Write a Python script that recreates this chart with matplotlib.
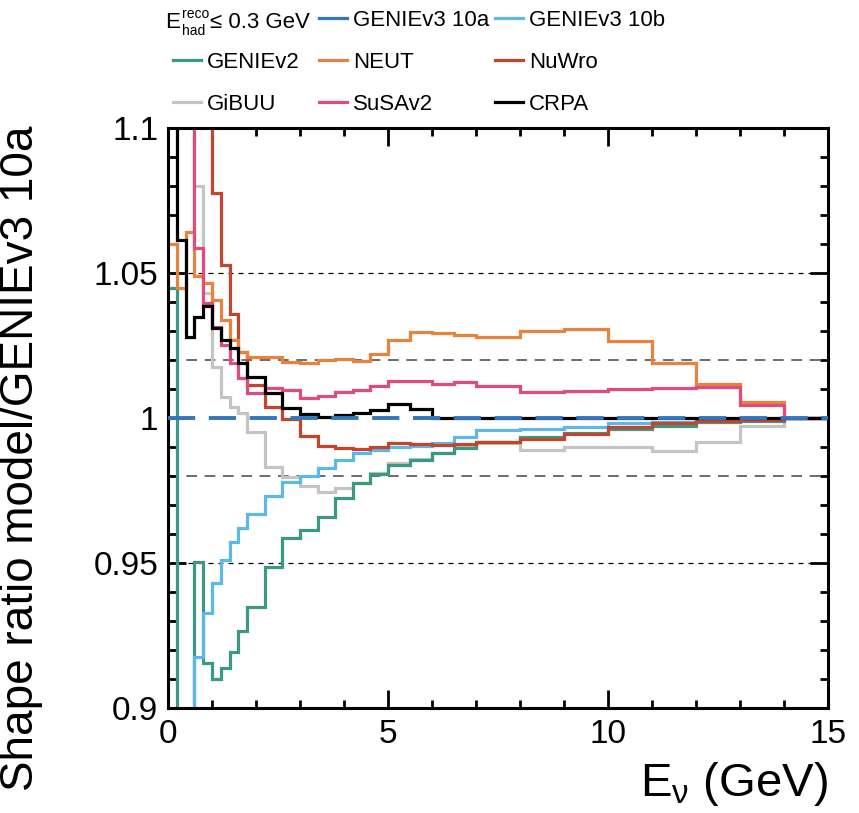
import numpy as np
import matplotlib
matplotlib.use('Agg')
import matplotlib.pyplot as plt
from matplotlib.lines import Line2D
from matplotlib.ticker import MultipleLocator, FormatStrFormatter

plt.rcParams['font.family'] = ['Liberation Sans', 'DejaVu Sans']
plt.rcParams['mathtext.fontset'] = 'custom'
plt.rcParams['mathtext.rm'] = 'Liberation Sans'
plt.rcParams['mathtext.it'] = 'Liberation Sans'

# bin edges in E_nu (GeV)
edges = [0, 0.2, 0.4, 0.6, 0.8, 1.0, 1.2, 1.4, 1.6, 1.8, 2.2, 2.6, 3.0, 3.4, 3.8,
         4.2, 4.6, 5.0, 5.5, 6.0, 6.5, 7, 8, 9, 10, 11, 12, 13, 14, 15]

# shape ratio model / GENIEv3 10a per bin (values > 1.1 or < 0.9 are off scale)
genie10a = [1.0, 1.0, 1.0, 1.0, 1.0, 1.0, 1.0, 1.0, 1.0, 1.0, 1.0, 1.0, 1.0, 1.0, 1.0,
            1.0, 1.0, 1.0, 1.0, 1.0, 1.0, 1.0, 1.0, 1.0, 1.0, 1.0, 1.0, 1.0, 1.0]
genie10b = [0.85, 0.85, 0.85, 0.9177, 0.9327, 0.943, 0.951, 0.9573, 0.962, 0.967,
            0.973, 0.978, 0.980, 0.9826, 0.9855, 0.988, 0.989, 0.990, 0.9905, 0.9913,
            0.9933, 0.9959, 0.9962, 0.997, 0.9982, 0.9987, 0.999, 0.9993, 1.0]
geniev2 = [1.045, 0.85, 0.85, 0.9504, 0.9154, 0.910, 0.9137, 0.9194, 0.9265, 0.9349,
           0.9485, 0.9585, 0.9614, 0.966, 0.9723, 0.9775, 0.9806, 0.9838, 0.9855, 0.9878,
           0.9895, 0.9916, 0.9933, 0.9947, 0.9961, 0.9972, 0.9985, 0.999, 1.0]
neut = [1.06, 1.045, 1.064, 1.049, 1.0464, 1.0407, 1.0338, 1.0269, 1.0229, 1.0211,
        1.0209, 1.0194, 1.0189, 1.020, 1.0202, 1.0198, 1.022, 1.0269, 1.0298, 1.0292,
        1.0286, 1.028, 1.030, 1.0307, 1.0266, 1.0191, 1.0116, 1.0056, 1.0]
nuwro = [1.15, 1.15, 1.15, 1.15, 1.15, 1.0775, 1.0528, 1.036, 1.0229, 1.0114,
         1.0039, 0.9995, 0.9938, 0.9903, 0.9895, 0.9892, 0.9899, 0.9913, 0.991, 0.9907,
         0.991, 0.9917, 0.9926, 0.9945, 0.997, 0.9984, 0.999, 0.9993, 1.0]
gibuu = [1.15, 1.15, 1.15, 1.08, 1.043, 1.0177, 1.0073, 1.0039, 1.0016, 0.9953,
         0.9832, 0.9795, 0.9765, 0.9746, 0.9757, 0.9775, 0.9812, 0.9845, 0.9858, 0.988,
         0.9903, 0.9913, 0.989, 0.9899, 0.9899, 0.9887, 0.9918, 0.9972, 1.0]
susav2 = [1.15, 1.15, 1.15, 1.0585, 1.0395, 1.0315, 1.0252, 1.0189, 1.0137, 1.0085,
          1.0102, 1.0097, 1.007, 1.0077, 1.0089, 1.0097, 1.0111, 1.0127, 1.0127, 1.0118,
          1.0123, 1.011, 1.0089, 1.0093, 1.0099, 1.0105, 1.0108, 1.0045, 1.0]
crpa = [1.15, 1.0614, 1.028, 1.0349, 1.0386, 1.031, 1.027, 1.024, 1.019, 1.014,
        1.0085, 1.0035, 1.0014, 1.0005, 1.001, 1.0016, 1.0028, 1.0048, 1.0031, 1.0,
        1.0, 1.0, 1.0, 1.0, 1.0, 1.0, 1.0, 1.0, 1.0]

c10a = '#3476bd'
c10b = '#5db8ea'
cv2 = '#3b9884'
cneut = '#e8833e'
cnuwro = '#c4452b'
cgibuu = '#c4c4c4'
csusa = '#e04a7c'
ccrpa = 'black'

fig = plt.figure(figsize=(8.59, 8.13), dpi=100)
ax = fig.add_axes([168/859, 1 - 708/813, 660/859, 580/813])

# reference lines
for yv in [1.05, 0.95]:
    ax.axhline(yv, color='black', lw=0.9, ls=(0, (4, 4)), zorder=1)
for yv in [1.02, 0.98]:
    ax.axhline(yv, color='#444444', lw=1.1, ls=(0, (7, 5)), zorder=1)

lw = 2.3
ax.stairs(gibuu, edges, baseline=None, color=cgibuu, lw=lw, zorder=2)
ax.stairs(geniev2, edges, baseline=None, color=cv2, lw=lw, zorder=2)
ax.stairs(genie10b, edges, baseline=None, color=c10b, lw=lw, zorder=2)
ax.stairs(nuwro, edges, baseline=None, color=cnuwro, lw=lw, zorder=2)
ax.stairs(neut, edges, baseline=None, color=cneut, lw=lw, zorder=2)
ax.stairs(susav2, edges, baseline=None, color=csusa, lw=lw, zorder=2)
ax.stairs(crpa, edges, baseline=None, color=ccrpa, lw=lw, zorder=3)
ax.stairs(genie10a, edges, baseline=None, color=c10a, lw=2.8,
          ls=(0, (7, 3.5)), zorder=4)

ax.set_xlim(0, 15)
ax.set_ylim(0.9, 1.1)
ax.xaxis.set_major_locator(MultipleLocator(5))
ax.xaxis.set_minor_locator(MultipleLocator(1))
ax.yaxis.set_major_locator(MultipleLocator(0.05))
ax.yaxis.set_minor_locator(MultipleLocator(0.01))
ax.yaxis.set_major_formatter(FormatStrFormatter('%g'))
ax.tick_params(which='both', direction='in', top=True, right=True, width=2.0,
               labelsize=24)
ax.tick_params(which='major', length=13)
ax.tick_params(which='minor', length=6)
ax.tick_params(axis='x', pad=8)
ax.tick_params(axis='y', pad=7)
for s in ax.spines.values():
    s.set_linewidth(2.2)

ax.set_ylabel('Shape ratio model/GENIEv3 10a', fontsize=33, loc='top')
ax.yaxis.set_label_coords(-0.19, 1.005)
ax.set_xlabel(r'E$_{\nu}$ (GeV)', fontsize=34, loc='right')
ax.xaxis.set_label_coords(1.0, -0.09)

# legend: three columns placed separately
leg_kw = dict(loc='upper left', frameon=False, fontsize=16, handlelength=1.26,
              handletextpad=0.27, labelspacing=0.95, borderpad=0, borderaxespad=0)
col1 = [Line2D([], [], color=cv2, lw=2.3), Line2D([], [], color=cgibuu, lw=2.3)]
col2 = [Line2D([], [], color=c10a, lw=2.3), Line2D([], [], color=cneut, lw=2.3),
        Line2D([], [], color=csusa, lw=2.3)]
col3 = [Line2D([], [], color=c10b, lw=2.3), Line2D([], [], color=cnuwro, lw=2.3),
        Line2D([], [], color=ccrpa, lw=2.3)]
fig.legend(col1, ['GENIEv2', 'GiBUU'], bbox_to_anchor=(173/859, 1 - 52/813), **leg_kw)
fig.legend(col2, ['GENIEv3 10a', 'NEUT', 'SuSAv2'],
           bbox_to_anchor=(319/859, 1 - 10/813), **leg_kw)
fig.legend(col3, ['GENIEv3 10b', 'NuWro', 'CRPA'],
           bbox_to_anchor=(495/859, 1 - 10/813), **leg_kw)

# header of the legend: E_had^reco <= 0.3 GeV
fig.text(165/859, 1 - 22/813, 'E', fontsize=16, va='center', ha='left')
fig.text(182/859, 1 - 14/813, 'reco', fontsize=10, va='center', ha='left')
fig.text(182/859, 1 - 31/813, 'had', fontsize=10, va='center', ha='left')
fig.text(210/859, 1 - 22/813, '≤ 0.3 GeV', fontsize=16, va='center', ha='left')

fig.savefig('out.png', dpi=100)
